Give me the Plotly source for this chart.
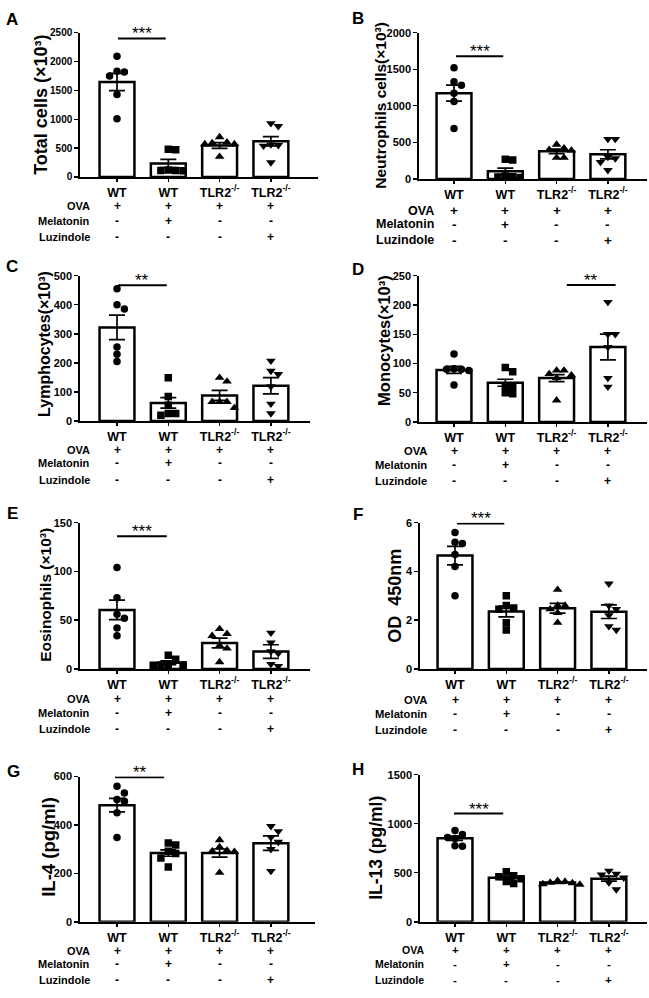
import plotly.graph_objects as go

# ---------------- DATA ----------------
categories = ["WT", "WT", "TLR2<sup>-/-</sup>", "TLR2<sup>-/-</sup>"]
ova = ["+", "+", "+", "+"]
melatonin = ["-", "+", "-", "-"]
luzindole = ["-", "-", "-", "+"]
row_labels = ["OVA", "Melatonin", "Luzindole"]

A_points = [[2090, 1830, 1820, 1750, 1430, 1010], [480, 470, 110, 105, 110, 120],
            [590, 600, 690, 570, 350, 570], [880, 930, 540, 560, 550, 250]]
A_mean = [1645, 233, 545, 619]
A_sem = [148, 72, 50, 80]

B_points = [[1520, 1330, 1280, 1060, 1170, 690], [270, 260, 30, 25, 20, 40],
            [470, 420, 390, 400, 290, 290], [545, 545, 300, 280, 120, 230]]
B_mean = [1173, 103, 377, 337]
B_sem = [110, 45, 30, 62]

C_points = [[455, 400, 385, 255, 230, 205], [149, 84, 54, 26, 20, 26],
            [149, 136, 66, 66, 45, 66], [207, 172, 161, 119, 59, 26]]
C_mean = [322, 62, 88, 121]
C_sem = [42, 18, 17, 28]

D_points = [[116, 91, 90, 90, 88, 63], [93, 86, 62, 60, 50, 48],
            [88, 88, 82, 80, 37, 75], [205, 150, 150, 128, 75, 60]]
D_mean = [89, 67, 75, 128]
D_sem = [6, 6, 6, 22]

E_points = [[104, 73, 56, 52, 42, 34], [10, 14, 4, 3, 4, 4],
            [41, 34, 36, 21, 24, 7], [37, 27, 18, 16, 5, 3]]
E_mean = [60.5, 6.4, 26.7, 17.8]
E_sem = [10, 2, 5, 7]

F_points = [[5.6, 5.2, 5.15, 4.7, 4.2, 3.0], [3.0, 2.6, 2.45, 2.5, 1.9, 1.6],
            [3.25, 2.6, 2.6, 2.45, 2.3, 1.9], [3.5, 2.6, 2.45, 2.2, 1.6, 1.75]]
F_mean = [4.65, 2.36, 2.49, 2.35]
F_sem = [0.38, 0.22, 0.2, 0.28]

G_points = [[560, 532, 505, 498, 451, 349], [326, 318, 292, 282, 264, 227],
            [338, 309, 295, 290, 292, 203], [395, 374, 350, 330, 300, 210]]
G_mean = [482, 284, 284, 325]
G_sem = [28, 13, 17, 30]

H_points = [[890, 860, 850, 930, 775, 770], [510, 470, 460, 440, 410, 390],
            [420, 410, 400, 395, 385, 380], [520, 490, 480, 450, 400, 330]]
H_mean = [852, 450, 400, 440]
H_sem = [22, 17, 7, 25]

# significance brackets: (from x, to x, level, label)
A_sig = (0.02, 0.95, 2400, "***")
B_sig = (0.04, 0.96, 1676, "***")
C_sig = (0.02, 0.97, 467, "**")
D_sig = (2.2, 3.15, 234, "**")
E_sig = (0.0, 0.97, 136, "***")
F_sig = (0.04, 0.96, 5.97, "***")
G_sig = (-0.04, 0.92, 597, "**")
H_sig = (-0.02, 0.94, 1104, "***")

# ---------------- STYLE / LAYOUT ----------------
W, H = 649, 998
FONT = "Liberation Sans, Arial, sans-serif"
UNIT = 51.3  # px per category
symbols = ["circle", "square", "triangle-up", "triangle-down"]

panels = [
    dict(letter="A", pts=A_points, mean=A_mean, sem=A_sem, sig=A_sig, ymax=2500, dtick=500,
         dom=(80, 318, 27, 173), pad=37, title="Total cells (×10³)", tsize=18,
         tpos=(41, 100), lpos=(12, 14), rows=(202, 218, 234), rlx=92, tick=10, tab=11),
    dict(letter="B", pts=B_points, mean=B_mean, sem=B_sem, sig=B_sig, ymax=2000, dtick=500,
         dom=(419, 647, 27, 175), pad=35, title="Neutrophils cells(×10³)", tsize=15.5,
         tpos=(381, 101), lpos=(358, 13), rows=(207, 221, 237), rlx=436, tick=11, tab=12.5),
    dict(letter="C", pts=C_points, mean=C_mean, sem=C_sem, sig=C_sig, ymax=500, dtick=100,
         dom=(80, 310, 273, 420), pad=37, title="Lymphocytes(×10³)", tsize=16,
         tpos=(45, 342), lpos=(12, 264), rows=(449, 463, 480), rlx=92, tick=11, tab=11),
    dict(letter="D", pts=D_points, mean=D_mean, sem=D_sem, sig=D_sig, ymax=250, dtick=50,
         dom=(419, 647, 273, 421), pad=35, title="Monocytes(×10³)", tsize=16.5,
         tpos=(384, 339), lpos=(358, 267), rows=(450, 465, 481), rlx=429, tick=11, tab=11.2),
    dict(letter="E", pts=E_points, mean=E_mean, sem=E_sem, sig=E_sig, ymax=150, dtick=50,
         dom=(80, 310, 523, 671), pad=37, title="Eosinophils (×10³)", tsize=15.5,
         tpos=(46, 596), lpos=(12, 514), rows=(701, 716, 732), rlx=92, tick=11, tab=11),
    dict(letter="F", pts=F_points, mean=F_mean, sem=F_sem, sig=F_sig, ymax=6, dtick=2,
         dom=(420, 647, 523, 671), pad=35, title="OD  450nm", tsize=18,
         tpos=(395, 597), lpos=(358, 515), rows=(702, 717, 733), rlx=429, tick=11, tab=11.2),
    dict(letter="G", pts=G_points, mean=G_mean, sem=G_sem, sig=G_sig, ymax=600, dtick=200,
         dom=(80, 315, 780, 927), pad=37, title="IL-4 (pg/ml)", tsize=18.5,
         tpos=(49, 851), lpos=(13, 775), rows=(956, 970, 986), rlx=92, tick=11, tab=11),
    dict(letter="H", pts=H_points, mean=H_mean, sem=H_sem, sig=H_sig, ymax=1500, dtick=500,
         dom=(420, 647, 778, 927), pad=35, title="IL-13 (pg/ml)", tsize=17.5,
         tpos=(376, 852), lpos=(358, 773), rows=(955, 970, 986), rlx=426, tick=11, tab=10.5),
]


def px_x(p):
    return p / W


def px_y(p):
    return 1 - p / H


def swarm(vals, px_per_unit, d=7.4):
    """GraphPad-like horizontal spreading of points, returns offsets in category units."""
    order = sorted(range(len(vals)), key=lambda i: -vals[i])
    placed = []
    offs = [0.0] * len(vals)
    for i in order:
        y = vals[i] * px_per_unit
        for k in [0, 1, -1, 2, -2, 3, -3, 4, -4]:
            x = k * d
            if all((x - px) ** 2 + (y - py) ** 2 >= (d * 0.95) ** 2 for px, py in placed):
                break
        placed.append((x, y))
        offs[i] = x / UNIT
    return offs


fig = go.Figure()
layout = dict(width=W, height=H, margin=dict(l=0, r=0, t=0, b=0),
              paper_bgcolor="white", plot_bgcolor="white", showlegend=False,
              font=dict(family=FONT, color="black"))
annotations = []
shapes = []

for i, p in enumerate(panels):
    n = "" if i == 0 else str(i + 1)
    xa, ya = "x" + n, "y" + n
    x0, x1, y0, y1 = p["dom"]
    plot_h = y1 - y0
    ppu = plot_h / p["ymax"]

    fig.add_trace(go.Bar(
        x=[0, 1, 2, 3], y=p["mean"], width=0.68, xaxis=xa, yaxis=ya,
        marker=dict(color="white", line=dict(color="black", width=2.5)),
        error_y=dict(type="data", array=p["sem"], color="black", thickness=1.7, width=8),
        hoverinfo="skip"))
    for g in range(4):
        vals = p["pts"][g]
        offs = swarm(vals, ppu)
        fig.add_trace(go.Scatter(
            x=[g + o for o in offs], y=vals, mode="markers", xaxis=xa, yaxis=ya,
            marker=dict(symbol=symbols[g], color="black", size=7.5 if g < 2 else 8.5,
                        line=dict(width=0))))

    xr0 = -p["pad"] / UNIT
    xr1 = (x1 - x0 - p["pad"]) / UNIT
    layout["xaxis" + n] = dict(
        domain=[px_x(x0), px_x(x1)], range=[xr0, xr1], anchor=ya,
        tickvals=[0, 1, 2, 3], ticktext=categories, showline=True, linecolor="black",
        linewidth=1.7, ticks="outside", ticklen=3, tickwidth=1.4, tickcolor="black",
        showgrid=False, zeroline=False, fixedrange=True,
        tickfont=dict(family=FONT, size=12.5, color="black", weight="bold"))
    layout["yaxis" + n] = dict(
        domain=[px_y(y1), px_y(y0)], range=[0, p["ymax"]], anchor=xa, dtick=p["dtick"],
        tick0=0, showline=True, linecolor="black", linewidth=1.7, ticks="outside",
        ticklen=4, tickwidth=1.4, tickcolor="black", showgrid=False, zeroline=False,
        fixedrange=True,
        tickfont=dict(family=FONT, size=p["tick"], color="black", weight="bold"))

    # significance bracket
    sx0, sx1, sy, slab = p["sig"]
    shapes.append(dict(type="line", xref=xa, yref=ya, x0=sx0, x1=sx1, y0=sy, y1=sy,
                       line=dict(color="black", width=2)))
    annotations.append(dict(xref=xa, yref=ya, x=(sx0 + sx1) / 2, y=sy, text=slab,
                            showarrow=False, yanchor="bottom", yshift=-7,
                            font=dict(family=FONT, size=17, color="black")))

    # panel letter
    annotations.append(dict(xref="paper", yref="paper", x=px_x(p["lpos"][0]),
                            y=px_y(p["lpos"][1]), text="<b>%s</b>" % p["letter"],
                            showarrow=False, xanchor="center", yanchor="middle",
                            font=dict(family=FONT, size=17, color="black")))
    # y title
    annotations.append(dict(xref="paper", yref="paper", x=px_x(p["tpos"][0]),
                            y=px_y(p["tpos"][1]), text="<b>%s</b>" % p["title"],
                            textangle=-90, showarrow=False, xanchor="center",
                            yanchor="middle",
                            font=dict(family=FONT, size=p["tsize"], color="black")))
    # treatment table
    for r, (lab, row) in enumerate(zip(row_labels, [ova, melatonin, luzindole])):
        yy = px_y(p["rows"][r])
        annotations.append(dict(xref="paper", yref="paper", x=px_x(p["rlx"]), y=yy,
                                text="<b>%s</b>" % lab, showarrow=False, xanchor="right",
                                yanchor="middle",
                                font=dict(family=FONT, size=p["tab"], color="black")))
        for g in range(4):
            annotations.append(dict(xref=xa, yref="paper", x=g, y=yy,
                                    text="<b>%s</b>" % row[g], showarrow=False,
                                    xanchor="center", yanchor="middle",
                                    font=dict(family=FONT, size=p["tab"] + 1, color="black")))

layout["annotations"] = annotations
layout["shapes"] = shapes
fig.update_layout(**layout)
fig.write_html("out.html", config={"displayModeBar": False, "staticPlot": True},
               post_script="document.body.style.margin='0';document.body.style.padding='0';")
